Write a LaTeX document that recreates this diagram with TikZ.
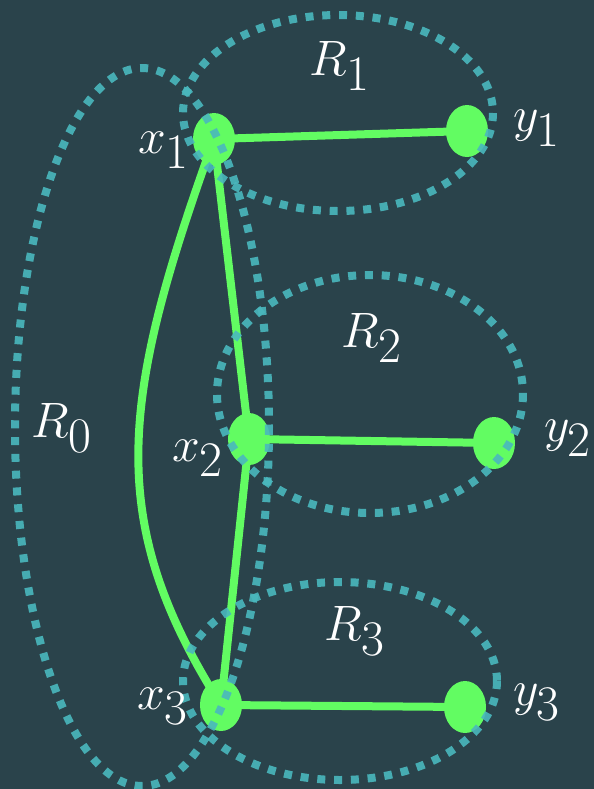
\documentclass[tikz,border=0pt]{standalone}
\usepackage{amsmath}
\usetikzlibrary{shapes.geometric,backgrounds}
\definecolor{bgteal}{RGB}{42,67,75}
\definecolor{vgreen}{RGB}{98,252,98}
\definecolor{regcyan}{RGB}{74,184,190}
\tikzset{
  vert/.style={ellipse,fill=vgreen,draw=none,minimum width=21pt,minimum height=26pt,inner sep=0pt},
  edge/.style={draw=vgreen,line width=4pt},
  region/.style={draw=regcyan,line width=4pt,dash pattern=on 4pt off 4.4pt,opacity=0.9},
  lab/.style={text=white,inner sep=0pt,font=\fontsize{33}{33}\selectfont}
}
\begin{document}
\begin{tikzpicture}[x=0.5pt,y=-0.5pt]
  \useasboundingbox (0,0) rectangle (594,789);
  % vertices
  \node[vert] (x1) at (214,139) {};
  \node[vert] (y1) at (467,131) {};
  \node[vert] (x2) at (249,439) {};
  \node[vert] (y2) at (494,443) {};
  \node[vert] (x3) at (221,705) {};
  \node[vert] (y3) at (465,707) {};
  % edges, behind the vertices
  \begin{scope}[on background layer]
  \fill[bgteal] (0,0) rectangle (594,789);
  \draw[edge] (x1.center) -- (y1.center);
  \draw[edge] (x2.center) -- (y2.center);
  \draw[edge] (x3.center) -- (y3.center);
  \draw[edge] (x1.center) -- (x2.center);
  \draw[edge] (x2.center) -- (x3.center);
  \draw[edge] (x1.center) .. controls (120,400) and (104,520) .. (x3.center);
  \end{scope}
  % regions
  \draw[region] (142,427) ellipse [x radius=127, y radius=359];
  \draw[region] (338,113) ellipse [x radius=155, y radius=98];
  \draw[region] (370,394) ellipse [x radius=153, y radius=119];
  \draw[region] (340,681) ellipse [x radius=157, y radius=99];
  % labels
  \node[lab] (lx1) at (164,150) {$x_1$};
  \node[lab] (ly1) at (537,128) {$y_1$};
  \node[lab] (lx2) at (198,458) {$x_2$};
  \node[lab] (ly2) at (568,438) {$y_2$};
  \node[lab] (lx3) at (163,706) {$x_3$};
  \node[lab] (ly3) at (537,702) {$y_3$};
  \node[lab] (lr0) at (62,428) {$R_0$};
  \node[lab] (lr1) at (340,66) {$R_1$};
  \node[lab] (lr2) at (372,338) {$R_2$};
  \node[lab] (lr3) at (355,631) {$R_3$};
\end{tikzpicture}
\end{document}
